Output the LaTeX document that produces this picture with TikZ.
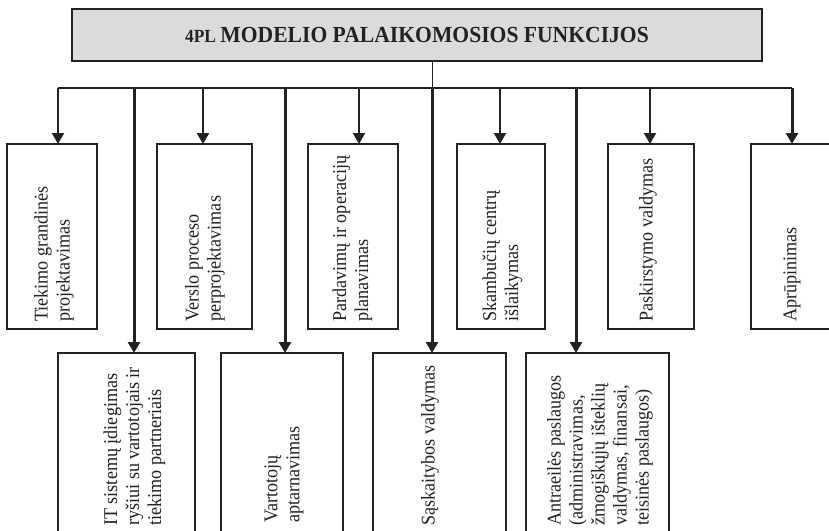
\documentclass[tikz,border=0pt]{standalone}
\usepackage{fontspec}
\setmainfont{Liberation Serif}
\newfontfamily\headfont[FakeStretch=0.94]{Liberation Serif}
\newfontfamily\boxfont[FakeStretch=0.93]{Liberation Serif}
\usetikzlibrary{arrows.meta,calc}
\definecolor{ink}{HTML}{222222}
\definecolor{headfill}{HTML}{DCDBDC}
\begin{document}
\begin{tikzpicture}[x=1pt,y=-1pt,
  box/.style={draw=ink, line width=1.3pt, inner sep=0pt, outer sep=0pt, fill=white},
  topbox/.style={box, minimum height=185pt},
  lowbox/.style={box, minimum height=192pt},
  lbl/.style={rotate=90, anchor=west, align=left, inner sep=0pt, text=ink,
    font=\boxfont\fontsize{19.5}{22}\selectfont},
  bus/.style={draw=ink, line width=1.2pt},
  feed/.style={draw=ink, line width=2.2pt, -{Triangle[width=12pt,length=11pt]}},
  longfeed/.style={feed, line width=3pt},
]
\useasboundingbox (0,0) rectangle (829,530);
\clip (0,0) rectangle (829,530);

% header
\node[draw=ink, line width=1.5pt, fill=headfill, minimum width=690pt,
  minimum height=52pt, inner sep=0pt, text=ink] (head) at (417,35)
  {\headfont\bfseries\fontsize{18.5}{22}\selectfont 4PL \fontsize{23}{27}\selectfont MODELIO PALAIKOMOSIOS FUNKCIJOS};

% upper row of function boxes
\node[topbox, minimum width=90pt] (b1) at (52,236.5) {};
\node[topbox, minimum width=95pt] (b2) at (204.5,236.5) {};
\node[topbox, minimum width=90pt] (b3) at (353,236.5) {};
\node[topbox, minimum width=88pt] (b4) at (501,236.5) {};
\node[topbox, minimum width=86pt] (b5) at (651,236.5) {};
\node[topbox, minimum width=100pt] (b6) at (801,236.5) {};

% lower row of function boxes
\node[lowbox, minimum width=137pt] (c1) at (126.5,449) {};
\node[lowbox, minimum width=122pt] (c2) at (282,449) {};
\node[lowbox, minimum width=133pt] (c3) at (439.5,449) {};
\node[lowbox, minimum width=143pt] (c4) at (597.5,449) {};

% labels, read from bottom to top
\node[lbl] (lb1) at (54,322) {Tiekimo grandinės\\projektavimas};
\node[lbl] (lb2) at (205,322) {Verslo proceso\\perprojektavimas};
\node[lbl] (lb3) at (352.5,322) {Pardavimų ir operacijų\\planavimas};
\node[lbl] (lb4) at (502.5,322) {Skambučių centrų\\išlaikymas};
\node[lbl] (lb5) at (648,322) {Paskirstymo valdymas};
\node[lbl] (lb6) at (792,322) {Aprūpinimas};
\node[lbl] (lc1) at (134.5,526) {IT sistemų įdiegimas\\ryšiui su vartotojais ir\\tiekimo partneriais};
\node[lbl] (lc2) at (284,523) {Vartotojų\\aptarnavimas};
\node[lbl] (lc3) at (430,526) {Sąskaitybos valdymas};
\node[lbl] (lc4) at (600,526) {Antraeilės paslaugos\\(administravimas,\\žmogiškųjų išteklių\\valdymas, finansai,\\teisinės paslaugos)};

% distribution bus
\coordinate (t1) at (58,88);
\coordinate (u1) at (134,88);
\coordinate (t2) at (203,88);
\coordinate (u2) at (285,88);
\coordinate (t3) at (359,88);
\coordinate (hub) at (432,88);
\coordinate (t4) at (500,88);
\coordinate (u4) at (576,88);
\coordinate (t5) at (650,88);
\coordinate (t6) at (792,88);

\draw[bus] (t1) -- (t6);
\draw[bus, line width=1pt] (head.south -| hub) -- (hub);

% feeds into the upper row
\draw[feed] (t1) -- (t1 |- b1.north);
\draw[feed, line width=2.6pt] (t2) -- (t2 |- b2.north);
\draw[feed] (t3) -- (t3 |- b3.north);
\draw[feed] (t4) -- (t4 |- b4.north);
\draw[feed] (t5) -- (t5 |- b5.north);
\draw[longfeed] (t6) -- (t6 |- b6.north);

% feeds into the lower row
\draw[longfeed] (u1) -- (u1 |- c1.north);
\draw[longfeed] (u2) -- (u2 |- c2.north);
\draw[longfeed] (hub) -- (hub |- c3.north);
\draw[longfeed] (u4) -- (u4 |- c4.north);
\end{tikzpicture}
\end{document}
